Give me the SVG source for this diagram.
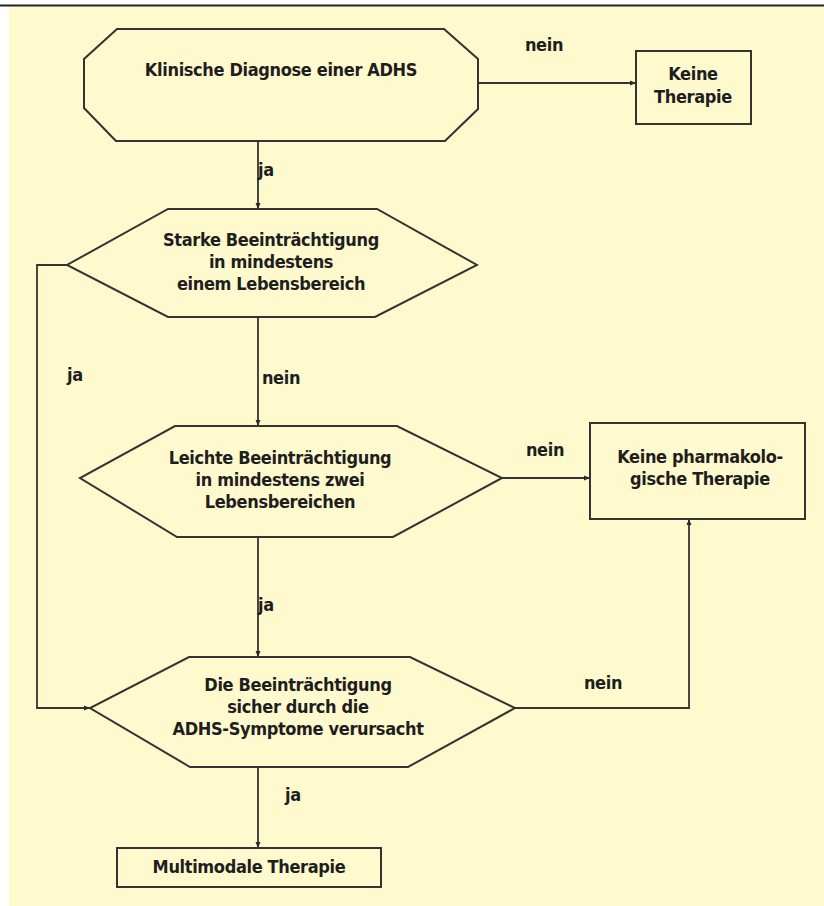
<svg xmlns="http://www.w3.org/2000/svg" width="824" height="906" viewBox="0 0 824 906">
<defs>
<marker id="ah" viewBox="0 0 6 6" refX="6" refY="3" markerWidth="6" markerHeight="6" markerUnits="userSpaceOnUse" orient="auto">
<path d="M0,0.5 L6,3 L0,5.5 Z" fill="#2a2a2a"/>
</marker>
<style>
.shape{fill:#FFF9CE;stroke:#333;stroke-width:2}
.con{fill:none;stroke:#333;stroke-width:1.8}
text{font-family:"Liberation Sans Narrow","DejaVu Sans Condensed","Roboto Condensed","DejaVu Sans",sans-serif;font-stretch:condensed;font-weight:bold;font-size:18px;letter-spacing:-0.35px;fill:#1e1e1e;text-anchor:middle}
</style>
</defs>
<rect x="0" y="0" width="824" height="906" fill="#ffffff"/>
<rect x="9" y="7" width="815" height="899" fill="#FFF9CE"/>
<line x1="0" y1="5.5" x2="824" y2="5.5" stroke="#222" stroke-width="2"/>

<g id="connectors">
<line class="con" x1="478" y1="83" x2="636" y2="83" marker-end="url(#ah)"/>
<line class="con" x1="258" y1="141" x2="258" y2="209" marker-end="url(#ah)"/>
<line class="con" x1="258" y1="317" x2="258" y2="426" marker-end="url(#ah)"/>
<line class="con" x1="258" y1="537" x2="258" y2="657" marker-end="url(#ah)"/>
<line class="con" x1="258" y1="767" x2="258" y2="848" marker-end="url(#ah)"/>
<line class="con" x1="502" y1="478" x2="590" y2="478" marker-end="url(#ah)"/>
<polyline class="con" points="515,708 689,708 689,519" marker-end="url(#ah)"/>
<polyline class="con" points="67,265 37,265 37,708 90,708" marker-end="url(#ah)"/>
<text x="544" y="51">nein</text>
<text x="266" y="176">ja</text>
<text x="75" y="381">ja</text>
<text x="281" y="384">nein</text>
<text x="545" y="456">nein</text>
<text x="266" y="611">ja</text>
<text x="603" y="689">nein</text>
<text x="293" y="801">ja</text>
</g>

<g id="n-diagnose">
<polygon class="shape" points="117,29 444,29 478,59 478,109 445,141 116,141 84,108 84,59"/>
<text x="281" y="76">Klinische Diagnose einer ADHS</text>
</g>

<g id="n-keine">
<rect class="shape" x="636" y="51" width="115" height="73"/>
<text x="693" y="80">Keine</text>
<text x="693" y="103">Therapie</text>
</g>

<g id="n-stark">
<polygon class="shape" points="168,209 377,209 477,265 375,317 168,317 67,265"/>
<text x="271" y="246">Starke Beeinträchtigung</text>
<text x="271" y="268">in mindestens</text>
<text x="271" y="290">einem Lebensbereich</text>
</g>

<g id="n-leicht">
<polygon class="shape" points="175,426 397,426 502,478 393,537 177,537 80,478"/>
<text x="280" y="464">Leichte Beeinträchtigung</text>
<text x="280" y="486">in mindestens zwei</text>
<text x="280" y="508">Lebensbereichen</text>
</g>

<g id="n-keinepharm">
<rect class="shape" x="590" y="423" width="215" height="96"/>
<text x="700" y="463">Keine pharmakolo-</text>
<text x="700" y="485">gische Therapie</text>
</g>

<g id="n-ursache">
<polygon class="shape" points="189,657 410,657 515,708 408,767 190,767 90,708"/>
<text x="298" y="691">Die Beeinträchtigung</text>
<text x="298" y="713">sicher durch die</text>
<text x="298" y="735">ADHS-Symptome verursacht</text>
</g>

<g id="n-multimodal">
<rect class="shape" x="117" y="848" width="264" height="39"/>
<text x="249" y="873">Multimodale Therapie</text>
</g>
</svg>
